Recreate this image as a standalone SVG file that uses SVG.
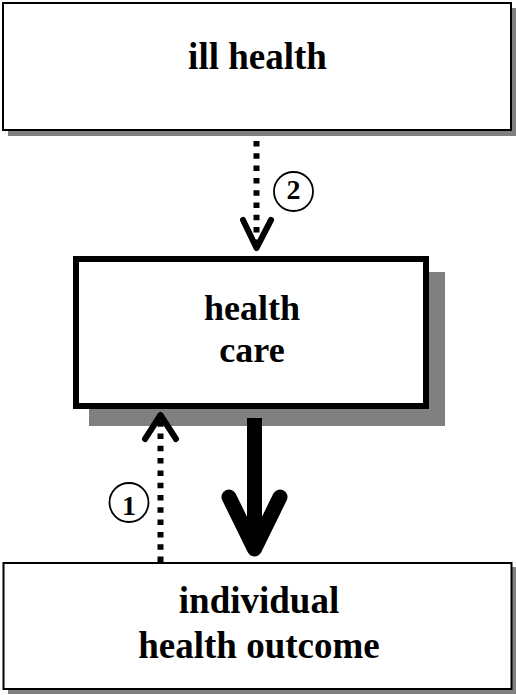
<svg xmlns="http://www.w3.org/2000/svg" width="516" height="695" viewBox="0 0 516 695">
<style>
.shadow{fill:#808080;stroke:none}
.box{fill:#fff;stroke:#000}
.lbl{font-family:"Liberation Serif","Times New Roman",serif;font-weight:bold;text-anchor:middle;fill:#000}
.num{font-family:"Liberation Serif","Times New Roman",serif;font-weight:bold;font-size:28px;text-anchor:middle;fill:#000}
.dot{fill:none;stroke:#000;stroke-width:6;stroke-dasharray:5.5 6.8}
.head{fill:none;stroke:#000;stroke-width:6;stroke-linecap:round;stroke-linejoin:round}
.circ{fill:#fff;stroke:#000;stroke-width:1.8}
</style>
<rect width="516" height="695" fill="#fff"/>
<g id="node-ill-health">
<rect class="shadow" x="8" y="8" width="508" height="128"/>
<rect class="box" x="3" y="3" width="508" height="127" stroke-width="2"/>
<text class="lbl" x="257.5" y="69" font-size="37">ill health</text>
</g>
<g id="node-individual-health-outcome">
<rect class="shadow" x="8" y="567" width="508" height="127"/>
<rect class="box" x="3.5" y="563" width="508" height="126" stroke-width="2"/>
<text class="lbl" x="259" y="613" font-size="37">individual</text>
<text class="lbl" x="259" y="658" font-size="37">health outcome</text>
</g>
<g id="node-health-care">
<rect class="shadow" x="89" y="272" width="356" height="154"/>
<rect class="box" x="76" y="259" width="350" height="147" stroke-width="6"/>
<text class="lbl" x="252" y="320" font-size="36">health</text>
<text class="lbl" x="252" y="362" font-size="36">care</text>
</g>
<g id="connectors">
<g id="edge-ill-to-care">
<line class="dot" x1="256.5" y1="141" x2="256.5" y2="244"/>
<polyline class="head" points="243,220 256.5,248 271,220"/>
<circle class="circ" cx="293.5" cy="191.5" r="19.5"/>
<text class="num" x="293.5" y="199">2</text>
</g>
<g id="edge-outcome-to-care">
<line class="dot" x1="160.5" y1="562" x2="160.5" y2="418"/>
<polyline class="head" points="145,439 160.5,415 176,439"/>
<circle class="circ" cx="129" cy="502.5" r="19.5"/>
<text class="num" x="129" y="515">1</text>
</g>
<g id="edge-care-to-outcome">
<line x1="254.5" y1="418" x2="254.5" y2="548" stroke="#000" stroke-width="15"/>
<polyline points="229,497 254.5,549 280,497" fill="none" stroke="#000" stroke-width="15" stroke-linecap="round" stroke-linejoin="round"/>
</g>
</g>
</svg>
